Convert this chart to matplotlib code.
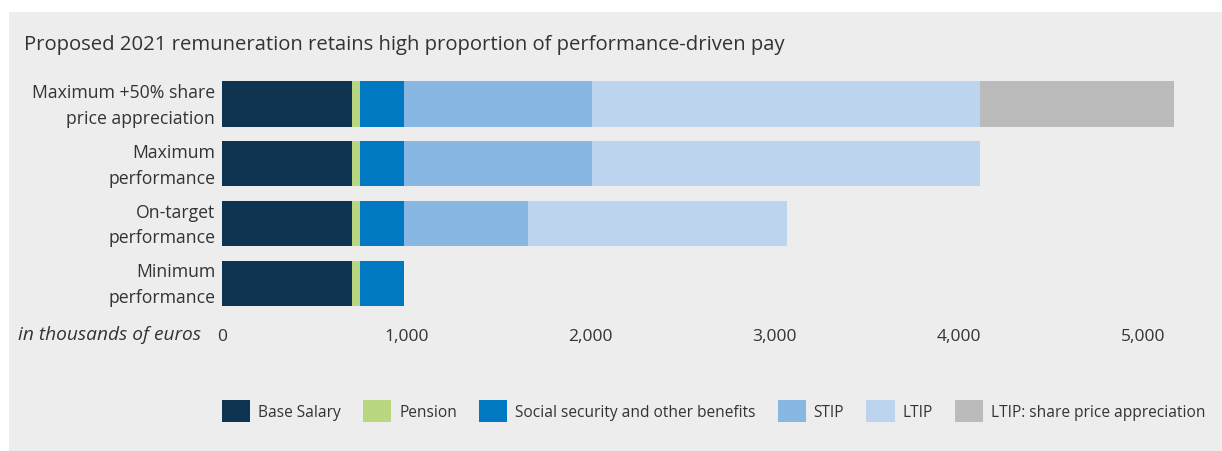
import matplotlib
matplotlib.use("Agg")
import matplotlib.pyplot as plt
from matplotlib.patches import Patch, Rectangle
import numpy as np

plt.rcParams['font.family'] = ['Open Sans', 'DejaVu Sans']

# scenarios, top to bottom
scenarios = ["Maximum +50% share\nprice appreciation", "Maximum\nperformance",
             "On-target\nperformance", "Minimum\nperformance"]
components = ["Base Salary", "Pension", "Social security and other benefits",
              "STIP", "LTIP", "LTIP: share price appreciation"]
colors = ["#0e3451", "#b9d77f", "#0079c2", "#89b7e3", "#bdd4ef", "#bbbbbb"]

# values in thousands of euros, one list per component (same order as scenarios)
base_salary = [705, 705, 705, 705]
pension = [45, 45, 45, 45]
social_security = [240, 240, 240, 240]
stip = [1020, 1020, 670, 0]
ltip = [2105, 2105, 1405, 0]
share_appreciation = [1055, 0, 0, 0]

series = [base_salary, pension, social_security, stip, ltip, share_appreciation]
ticks = [0, 1000, 2000, 3000, 4000, 5000]

text_col = "#333333"
bg = "#ededed"

fig = plt.figure(figsize=(12.22, 4.52), dpi=100, facecolor="white")
fig.patches.append(Rectangle((9 / 1222, 0), 1 - 9 / 1222, 1 - 13 / 452,
                             transform=fig.transFigure, facecolor=bg,
                             edgecolor="none", zorder=-10))

ax = fig.add_axes([222 / 1222, 0.3049, 958 / 1222, 0.8341 - 0.3049])
ax.set_facecolor(bg)
ax.patch.set_alpha(0)

y = np.arange(len(scenarios))
left = np.zeros(len(scenarios))
for vals, col, name in zip(series, colors, components):
    ax.barh(y, vals, left=left, height=0.762, color=col, label=name, linewidth=0)
    left += np.array(vals)

ax.set_xlim(0, 5200)
ax.set_ylim(len(scenarios) - 0.5, -0.5)
ax.set_yticks([])
# category labels, drawn as text so their vertical spot can be tuned
for yi, name in zip(y, scenarios):
    ax.annotate(name, xy=(0, yi), xycoords=("axes fraction", "data"),
                xytext=(-7, -1), textcoords="offset pixels", ha="right",
                va="center", fontsize=12.7, color=text_col, linespacing=1.55)
ax.set_xticks(ticks)
ax.set_xticklabels([f"{t:,}" for t in ticks], fontsize=12.5, color=text_col)
ax.tick_params(axis="both", length=0)
ax.tick_params(axis="x", pad=11)
for s in ax.spines.values():
    s.set_visible(False)

fig.text(24 / 1222, 1 - 45 / 452,
         "Proposed 2021 remuneration retains high proportion of performance-driven pay",
         fontsize=14.6, color=text_col, va="center", ha="left")
fig.text(201 / 1222, 1 - 335 / 452, "in thousands of euros", fontsize=13.8,
         style="italic", color=text_col, va="center", ha="right")

handles = [Patch(facecolor=c, edgecolor="none") for c in colors]
fig.legend(handles, components, loc="center left",
           bbox_to_anchor=(222 / 1222, 1 - 412 / 452), ncol=6, frameon=False,
           fontsize=11.2, handlelength=1.82, handleheight=1.82,
           handletextpad=0.5, columnspacing=1.42, labelcolor=text_col,
           borderaxespad=0, borderpad=0)

fig.savefig("out.png", dpi=100, facecolor="white")
